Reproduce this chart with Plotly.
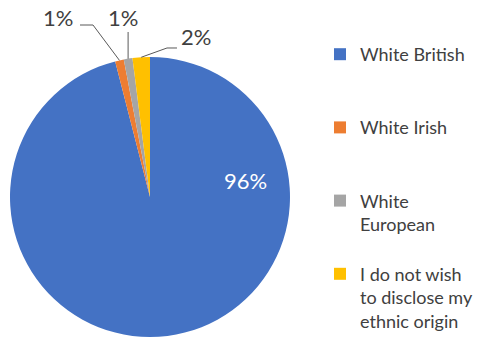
import math
import plotly.graph_objects as go

# ---- data ----
categories = ["White British", "White Irish", "White European",
              "I do not wish to disclose my ethnic origin"]
legend_labels = ["White British<br> <br> ", "White Irish<br> <br> ",
                 "White<br>European<br> ", "I do not wish<br>to disclose my<br>ethnic origin"]
values = [96, 1, 1, 2]
colors = ["#4472C4", "#ED7D31", "#A5A5A5", "#FFC000"]

# ---- layout / style ----
W, H = 484, 339
CX, CY, R = 150, 197, 140   # pie centre / radius in px
FONT = "Lato"
TXT = "#404040"
LINE = "#595959"

def px_to_paper(x, y):
    return x / W, 1 - y / H

fig = go.Figure(go.Pie(
    labels=legend_labels,
    values=values,
    sort=False,
    direction="clockwise",
    rotation=0,
    textinfo="none",
    marker=dict(colors=colors, line=dict(width=0)),
    domain=dict(x=[(CX - R) / W, (CX + R) / W],
                y=[1 - (CY + R) / H, 1 - (CY - R) / H]),
    hovertext=categories,
    hoverinfo="text+percent",
))

total = sum(values)
cum = 0
mid_angles = []
for v in values:
    mid_angles.append((cum + v / 2) / total * 360)
    cum += v

def edge_point(angle_deg, rr=R):
    a = math.radians(angle_deg)
    return CX + rr * math.sin(a), CY - rr * math.cos(a)

pct = [f"{round(v / total * 100)}%" for v in values]

annotations = []
shapes = []

# big slice label (inside, white)
lx, ly = edge_point(80, 0.69 * R)
px, py = px_to_paper(lx, ly)
annotations.append(dict(x=px, y=py, xref="paper", yref="paper", text=pct[0],
                        xanchor="center", yanchor="middle", showarrow=False,
                        font=dict(family=FONT, size=22, color="white")))

# outside labels with leader lines
label_style = {
    1: dict(text_xy=(58, 17), elbow=[(93, 25), (80, 25)]),
    2: dict(text_xy=(123, 17), elbow=[(None, 32)]),
    3: dict(text_xy=(196, 37), elbow=[(167, 48), (177, 48)]),
}
for i, st in label_style.items():
    ex, ey = edge_point(mid_angles[i])
    pts = [(ex, ey)]
    for (bx, by) in st["elbow"]:
        pts.append((ex if bx is None else bx, by))
    path = ""
    for k, (x, y) in enumerate(pts):
        xp, yp = px_to_paper(x, y)
        path += ("M" if k == 0 else " L") + f"{xp:.5f},{yp:.5f}"
    shapes.append(dict(type="path", path=path, xref="paper", yref="paper",
                       line=dict(color=LINE, width=1)))
    tx, ty = px_to_paper(*st["text_xy"])
    annotations.append(dict(x=tx, y=ty, xref="paper", yref="paper", text=pct[i],
                            xanchor="center", yanchor="middle", showarrow=False,
                            font=dict(family=FONT, size=22, color=TXT)))

fig.update_layout(
    width=W, height=H,
    margin=dict(l=0, r=0, t=0, b=0),
    paper_bgcolor="white",
    font=dict(family=FONT, color=TXT),
    showlegend=True,
    legend=dict(x=320 / W, y=0.882, xanchor="left", yanchor="top",
                valign="top", font=dict(family=FONT, size=18, color=TXT),
                traceorder="normal"),
    annotations=annotations,
    shapes=shapes,
)

fig.write_html("out.html", config={"displayModeBar": False},
               post_script="document.body.style.margin='0px';")
